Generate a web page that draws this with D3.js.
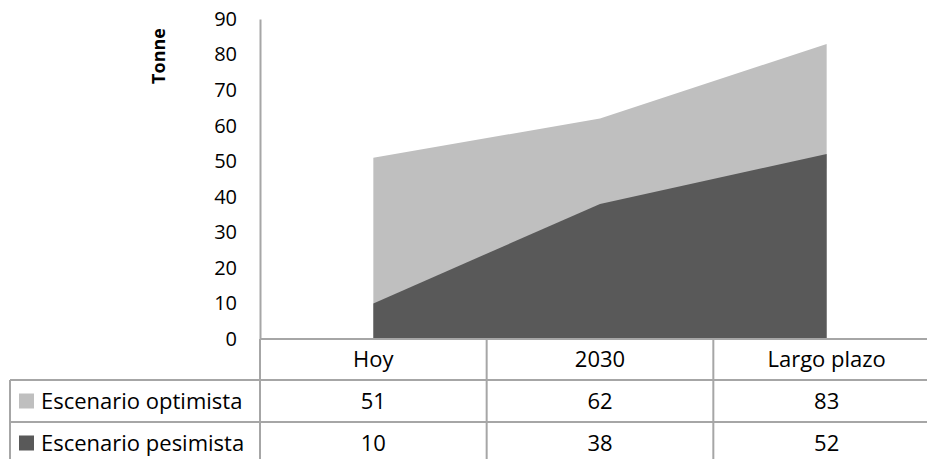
<!DOCTYPE html>
<html><head><meta charset="utf-8">
<script src="https://cdn.jsdelivr.net/npm/d3@7"></script>
<style>body{margin:0;background:#fff}text{font-family:"Open Sans","Noto Sans",sans-serif}</style>
</head><body>
<svg id="c" width="927" height="459"></svg>
<script>
const categories = ["Hoy", "2030", "Largo plazo"];
const seriesNames = ["Escenario optimista", "Escenario pesimista"];
const optimista = [51, 62, 83];
const pesimista = [10, 38, 52];
const seriesColors = ["#bfbfbf", "#595959"];
const yTicks = [0,10,20,30,40,50,60,70,80,90];
const yTitle = "Tonne";

const svg = d3.select("#c");
const plotLeft = 260, plotRight = 940, plotTop = 19, zeroY = 339;
const rowH = [41, 42, 42];
const fs = 20, tfs = 22;
const x = d3.scaleBand().domain(categories).range([plotLeft, plotRight]);
const y = d3.scaleLinear().domain([0, 90]).range([zeroY, plotTop]);
const cx = d => x(d) + x.bandwidth()/2;
const grid = "#a6a6a6";

const series = [optimista, pesimista];
series.forEach((vals, i) => {
  const area = d3.area().x((d,j)=>cx(categories[j])).y0(y(0)).y1(d=>y(d));
  svg.append("path").attr("d", area(vals)).attr("fill", seriesColors[i]);
});

// y axis
const ax = svg.append("g").attr("transform", `translate(${plotLeft},0)`)
  .call(d3.axisLeft(y).tickValues(yTicks).tickSize(0).tickPadding(23));
ax.select(".domain").attr("stroke", grid).attr("stroke-width", 2);
ax.selectAll("text").attr("font-size", fs).attr("fill", "#000")
  .style("font-family","'Open Sans',sans-serif");

svg.append("text").attr("transform", "translate(165,56) rotate(-90)")
  .attr("text-anchor","middle").attr("font-size",18).attr("font-weight","bold").text(yTitle);

// table
const r0 = zeroY, r1 = r0 + rowH[0], r2 = r1 + rowH[1], r3 = r2 + rowH[2];
const line = (x1,y1,x2,y2) => svg.append("line").attr("x1",x1).attr("y1",y1).attr("x2",x2).attr("y2",y2)
  .attr("stroke",grid).attr("stroke-width",2);
line(plotLeft, r0, plotRight, r0);
line(10, r1, plotRight, r1);
line(10, r2, plotRight, r2);
line(10, r1, 10, r3);
line(plotLeft, r0, plotLeft, r3);
categories.forEach((c,i)=>{ if(i>0) line(x(c), r0, x(c), r3); });

categories.forEach(c => {
  svg.append("text").attr("x", cx(c)).attr("y", (r0+r1)/2).attr("dy","0.36em")
    .attr("text-anchor","middle").attr("font-size",tfs).text(c);
});
series.forEach((vals, i) => {
  const ry = i===0 ? (r1+r2)/2 : (r2+r3)/2;
  vals.forEach((v,j) => {
    svg.append("text").attr("x", cx(categories[j])).attr("y", ry).attr("dy","0.36em")
      .attr("text-anchor","middle").attr("font-size",tfs).text(v);
  });
  svg.append("rect").attr("x",19).attr("y",ry-7.5).attr("width",15).attr("height",15).attr("fill",seriesColors[i]);
  svg.append("text").attr("x",41).attr("y",ry).attr("dy","0.36em").attr("font-size",tfs).text(seriesNames[i]);
});
</script>
</body></html>
